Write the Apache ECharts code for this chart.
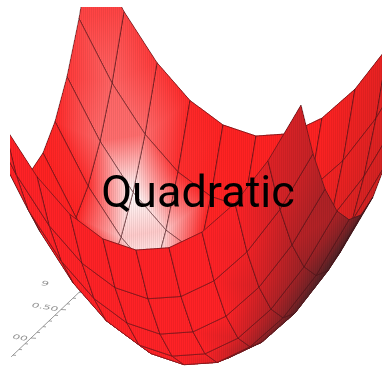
<!DOCTYPE html>
<html><head><meta charset="utf-8">
<style>html,body{margin:0;padding:0;background:#fff}#c{width:386px;height:368px}</style>
<script src="https://cdn.jsdelivr.net/npm/echarts@6/dist/echarts.min.js"></script>
</head><body><div id="c"></div>
<script>
// ---- data ----
const titleText = 'Quadratic';
const xValues = [-1,-0.8,-0.6,-0.4,-0.2,0,0.2,0.4,0.6,0.8,1];
const yValues = [-1,-0.8,-0.6,-0.4,-0.2,0,0.2,0.4,0.6,0.8,1];
const zRows = [
 [2,1.64,1.36,1.16,1.04,1,1.04,1.16,1.36,1.64,2],
 [1.64,1.28,1,0.8,0.68,0.64,0.68,0.8,1,1.28,1.64],
 [1.36,1,0.72,0.52,0.4,0.36,0.4,0.52,0.72,1,1.36],
 [1.16,0.8,0.52,0.32,0.2,0.16,0.2,0.32,0.52,0.8,1.16],
 [1.04,0.68,0.4,0.2,0.08,0.04,0.08,0.2,0.4,0.68,1.04],
 [1,0.64,0.36,0.16,0.04,0,0.04,0.16,0.36,0.64,1],
 [1.04,0.68,0.4,0.2,0.08,0.04,0.08,0.2,0.4,0.68,1.04],
 [1.16,0.8,0.52,0.32,0.2,0.16,0.2,0.32,0.52,0.8,1.16],
 [1.36,1,0.72,0.52,0.4,0.36,0.4,0.52,0.72,1,1.36],
 [1.64,1.28,1,0.8,0.68,0.64,0.68,0.8,1,1.28,1.64],
 [2,1.64,1.36,1.16,1.04,1,1.04,1.16,1.36,1.64,2]
];
const axisMinorTicks = [-0.3,-0.2,-0.1,0,0.1,0.2,0.3,0.4,0.5,0.6,0.7,0.8,0.9,1];
const axisMajorTicks = [0,0.5,1];
const axisLabels = ['00','0.50','9'];

// ---- view ----
function project(x,y,z){ return [196+165*x+60*y, 360+22*x-57*y-167*z]; }
const view=[0.32,-0.88,0.34];
const specDir=[0.577,-0.577,0.577];
function dot(a,b){return a[0]*b[0]+a[1]*b[1]+a[2]*b[2];}
function nodeNormal(i,j){ // i: y index, j: x index
  const n=xValues.length-1;
  const j0=Math.max(j-1,0), j1=Math.min(j+1,n), i0=Math.max(i-1,0), i1=Math.min(i+1,n);
  const zx=(zRows[i][j1]-zRows[i][j0])/(xValues[j1]-xValues[j0]);
  const zy=(zRows[i1][j]-zRows[i0][j])/(yValues[i1]-yValues[i0]);
  const l=Math.sqrt(zx*zx+zy*zy+1);
  return [-zx/l,-zy/l,1/l];
}
function clamp(v,a,b){return Math.max(a,Math.min(b,v));}
function shadeInner(n){
  const s=Math.max(0,dot(n,specDir));
  const spec=7*Math.pow(s,180)+0.3*Math.pow(s,40);
  const I=clamp(1-0.45*Math.max(0,-n[0]-0.35),0,1);
  const r=50+205*I, g=34;
  return [clamp(r+255*spec,0,255),clamp(g+221*spec,0,255),clamp(g+221*spec,0,255)];
}
function shadeOuter(n,z){
  const o=[-n[0],-n[1],-n[2]];
  const d=-0.7*o[0]-0.7*o[1]-0.15*o[2];
  const boost=0.5*clamp(z-0.7,0,0.5)*clamp((-0.1-d)/0.2,0,1);
  const I=clamp((d>=-0.3?0.72+1.15*d:0.375+1.2*(d+0.3))+boost,0,1);
  return [50+205*I,34,38];
}
const nodes=[],colorsIn=[],colorsOut=[];
yValues.forEach((y,i)=>{nodes[i]=[];colorsIn[i]=[];colorsOut[i]=[];
  xValues.forEach((x,j)=>{
    nodes[i][j]=project(x,y,zRows[i][j]);
    const n=nodeNormal(i,j);
    colorsIn[i][j]=shadeInner(n); colorsOut[i][j]=shadeOuter(n,zRows[i][j]);
  });
});
const cells=[];
for(let i=0;i<yValues.length-1;i++)for(let j=0;j<xValues.length-1;j++){
  const cx=(xValues[j]+xValues[j+1])/2, cy=(yValues[i]+yValues[i+1])/2;
  const cz=(zRows[i][j]+zRows[i][j+1]+zRows[i+1][j]+zRows[i+1][j+1])/4;
  cells.push([i,j,dot([cx,cy,cz],view)]);
}
cells.sort((a,b)=>a[2]-b[2]);

function rgb(c,f){return 'rgb('+Math.round(c[0]*f)+','+Math.round(c[1]*f)+','+Math.round(c[2]*f)+')';}
function triangleStrips(P,C,out){
  const minx=Math.floor(Math.min(P[0][0],P[1][0],P[2][0]));
  const maxx=Math.ceil(Math.max(P[0][0],P[1][0],P[2][0]));
  for(let c=minx;c<maxx;c++){
    const cx=c+0.5, hits=[];
    for(let e=0;e<3;e++){
      const a=P[e],b=P[(e+1)%3],ca=C[e],cb=C[(e+1)%3];
      if((a[0]<=cx&&b[0]>cx)||(b[0]<=cx&&a[0]>cx)){
        const t=(cx-a[0])/(b[0]-a[0]);
        hits.push({y:a[1]+t*(b[1]-a[1]),c:[ca[0]+t*(cb[0]-ca[0]),ca[1]+t*(cb[1]-ca[1]),ca[2]+t*(cb[2]-ca[2])]});
      }
    }
    if(hits.length<2)continue;
    hits.sort((p,q)=>p.y-q.y);
    const top=hits[0],bot=hits[hits.length-1];
    const f=(c%2===0)?1:0.94;
    out.push({type:'rect',silent:true,shape:{x:c,y:top.y-0.4,width:1,height:bot.y-top.y+0.8},
      style:{fill:{type:'linear',x:0,y:0,x2:0,y2:1,colorStops:[{offset:0,color:rgb(top.c,f)},{offset:1,color:rgb(bot.c,f)}]}}});
  }
}
function renderCell(params,api){
  const i=api.value(0), j=api.value(1);
  const idx=[[i,j],[i,j+1],[i+1,j+1],[i+1,j]];
  const pts=idx.map(q=>api.coord(nodes[q[0]][q[1]]));
  const children=[];
  [[0,1,2],[0,2,3]].forEach(t=>{
    const P=t.map(k=>pts[k]);
    const cr=(P[1][0]-P[0][0])*(P[2][1]-P[0][1])-(P[1][1]-P[0][1])*(P[2][0]-P[0][0]);
    const C=t.map(k=>{const q=idx[k];return (cr<0?colorsIn:colorsOut)[q[0]][q[1]];});
    triangleStrips(P,C,children);
  });
  for(let k=0;k<4;k++){
    const a=pts[k],b=pts[(k+1)%4];
    children.push({type:'line',silent:true,shape:{x1:a[0],y1:a[1],x2:b[0],y2:b[1]},
      style:{stroke:'rgb(70,18,24)',lineWidth:0.6,fill:'none'}});
  }
  return {type:'group',children};
}
function axisPoint(y){return project(-1,y,0);}
function renderAxis(params,api){
  const children=[];
  const p0=api.coord(axisPoint(axisMinorTicks[0]-0.03)), p1=api.coord(axisPoint(1));
  children.push({type:'line',silent:true,shape:{x1:p0[0],y1:p0[1],x2:p1[0],y2:p1[1]},style:{stroke:'#8a8a8a',lineWidth:0.9}});
  axisMinorTicks.forEach(t=>{
    const p=api.coord(axisPoint(t));
    const len=axisMajorTicks.indexOf(t)>=0?5:3;
    children.push({type:'line',silent:true,shape:{x1:p[0],y1:p[1],x2:p[0]+len,y2:p[1]+0.3},style:{stroke:'#8a8a8a',lineWidth:0.8}});
  });
  const off=[[-11,0],[-16,-2],[-46,3]];
  axisMajorTicks.forEach((t,k)=>{
    const p=api.coord(axisPoint(t));
    children.push({type:'text',silent:true,x:p[0]+off[k][0],y:p[1]+off[k][1],rotation:-0.17,scaleY:0.55,
      style:{text:axisLabels[k],fill:'#909090',font:'italic 12px "DejaVu Sans"',align:'center',verticalAlign:'middle'}});
  });
  return {type:'group',children};
}
const chart=echarts.init(document.getElementById('c'),null,{renderer:'canvas'});
chart.setOption({
  animation:false,
  backgroundColor:'#fff',
  title:{text:titleText,left:193,top:168,textAlign:'center',
    textStyle:{fontFamily:'Roboto',fontWeight:400,fontSize:45,color:'#000'}},
  grid:{left:10,top:7,width:372,height:361},
  xAxis:{type:'value',min:10,max:382,show:false},
  yAxis:{type:'value',min:7,max:368,inverse:true,show:false},
  tooltip:{show:false},
  series:[
   {type:'custom',silent:true,clip:false,z:1,renderItem:renderAxis,data:[[0]]},
   {type:'custom',silent:true,clip:true,z:2,progressive:0,renderItem:renderCell,data:cells}
  ]
});
</script></body></html>
